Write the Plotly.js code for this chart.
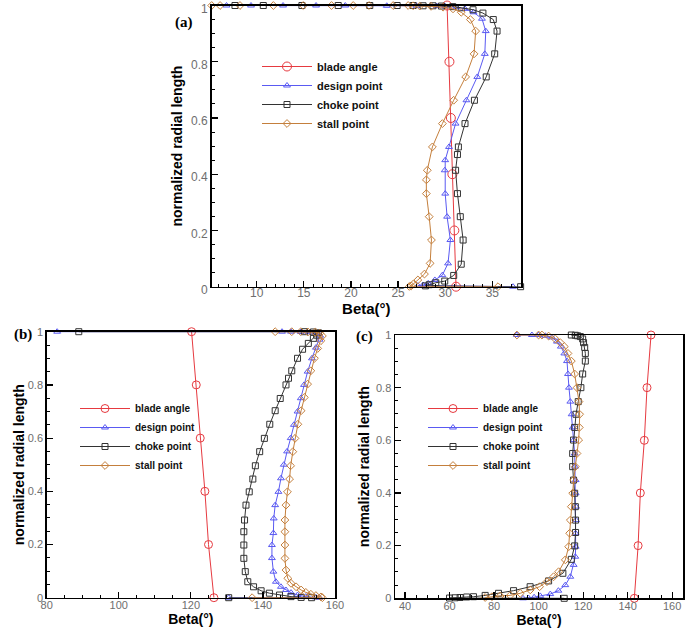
<!DOCTYPE html>
<html>
<head>
<meta charset="utf-8">
<script src="https://cdn.plot.ly/plotly-3.0.1.min.js"></script>
<style>html,body{margin:0;padding:0;background:#fff;}#chart{width:685px;height:629px;}</style>
</head>
<body>
<div id="chart"></div>
<script>
// ---------- data: panel (a) ----------
const seriesNames = ["blade angle", "design point", "choke point", "stall point"];
const a_blade_beta = [31.15, 30.97, 30.76, 30.6, 30.45, 30.2];
const a_blade_r = [0, 0.2, 0.4, 0.6, 0.8, 1];
const a_design_beta = [37.2, 27.1, 27.65, 28.2, 28.9, 29.7, 30.3, 30.55, 30.2, 30.0, 29.95, 30.0, 30.4, 31.1, 32.25, 33.4, 34.2, 34.3, 33.9, 33.0, 32.1, 31.2, 30.0, 29.1, 26.95, 23.8, 19.4, 16.3, 12.8, 9.4, 6.8];
const a_design_r = [0, 0.004, 0.006, 0.012, 0.024, 0.041, 0.083, 0.166, 0.249, 0.331, 0.414, 0.45, 0.497, 0.58, 0.663, 0.746, 0.828, 0.909, 0.953, 0.976, 0.988, 0.994, 0.997, 0.998, 0.999, 0.999, 1, 1, 1, 1, 1];
const a_choke_beta = [38.0, 27.9, 28.3, 29.0, 29.95, 30.9, 31.7, 31.9, 31.6, 31.3, 31.1, 31.3, 31.4, 32.1, 33.1, 34.35, 35.25, 35.5, 35.1, 34.0, 32.95, 31.7, 30.8, 29.6, 28.7, 27.65, 26.6, 24.9, 22.0, 18.65, 14.8, 10.7, 7.7];
const a_choke_r = [0, 0.003, 0.007, 0.014, 0.02, 0.04, 0.08, 0.166, 0.249, 0.331, 0.414, 0.47, 0.497, 0.58, 0.663, 0.746, 0.828, 0.909, 0.95, 0.973, 0.985, 0.992, 0.996, 0.998, 0.999, 0.999, 1, 1, 1, 1, 1, 1, 1];
const a_stall_beta = [35.6, 26.2, 26.4, 26.6, 27.1, 27.8, 28.4, 28.54, 28.3, 28.0, 28.0, 28.1, 28.64, 29.7, 30.9, 32.17, 33.06, 33.23, 32.67, 31.7, 30.83, 29.77, 28.5, 27.3, 26.6, 26.07, 24.48, 21.93, 20.24, 17.94, 14.94, 11.77, 8.23, 6.12, 5.23];
const a_stall_r = [0, 0.001, 0.003, 0.009, 0.024, 0.045, 0.083, 0.166, 0.249, 0.331, 0.38, 0.414, 0.497, 0.58, 0.663, 0.746, 0.828, 0.909, 0.95, 0.976, 0.988, 0.994, 0.997, 0.998, 0.999, 1, 1, 1, 1, 1, 1, 1, 1, 1, 1];

// ---------- data: panel (b) ----------
const b_blade_beta = [126.4, 124.9, 123.9, 122.6, 121.5, 120.2];
const b_blade_r = [0, 0.2, 0.4, 0.6, 0.8, 1];
const b_design_beta = [130.5, 155.7, 154.7, 151.9, 149.6, 147.8, 146.4, 145.0, 143.6, 142.9, 142.5, 142.5, 142.9, 143.0, 143.4, 144.3, 145.0, 145.8, 146.7, 147.7, 148.6, 149.6, 150.5, 151.4, 152.4, 153.6, 154.7, 155.7, 155.9, 155.0, 153.0, 150.5, 147.8, 145.3, 82.9];
const b_design_r = [0, 0, 0.001, 0.004, 0.01, 0.019, 0.029, 0.041, 0.06, 0.098, 0.149, 0.198, 0.243, 0.298, 0.348, 0.398, 0.449, 0.5, 0.55, 0.6, 0.65, 0.7, 0.75, 0.8, 0.85, 0.9, 0.94, 0.97, 0.985, 0.995, 0.998, 0.999, 1, 1, 1];
const b_choke_beta = [130.5, 153.5, 150.6, 147.8, 144.6, 141.8, 139.5, 137.4, 135.8, 135.1, 134.7, 134.7, 134.7, 134.9, 135.3, 136.2, 137.2, 137.9, 139.1, 140.4, 141.9, 143.4, 144.8, 146.4, 147.1, 148.0, 149.6, 151.0, 152.6, 154.0, 154.9, 155.4, 154.0, 151.5, 88.9];
const b_choke_r = [0, 0, 0.001, 0.004, 0.01, 0.017, 0.026, 0.041, 0.06, 0.098, 0.148, 0.198, 0.248, 0.292, 0.348, 0.398, 0.446, 0.496, 0.549, 0.599, 0.652, 0.703, 0.749, 0.8, 0.825, 0.853, 0.9, 0.934, 0.956, 0.975, 0.987, 0.996, 0.999, 1, 1];
const b_stall_beta = [137.0, 156.5, 156.1, 154.7, 153.3, 151.9, 150.6, 149.2, 147.8, 146.9, 146.4, 146.1, 146.1, 146.1, 146.1, 146.4, 146.8, 147.4, 147.7, 148.3, 148.9, 149.7, 150.6, 151.5, 152.4, 153.3, 154.3, 155.2, 156.1, 156.5, 155.8, 154.5, 152.5, 150.5, 148.0, 143.4];
const b_stall_r = [0, 0, 0.003, 0.008, 0.013, 0.02, 0.029, 0.041, 0.054, 0.073, 0.104, 0.148, 0.198, 0.248, 0.292, 0.348, 0.398, 0.446, 0.496, 0.549, 0.599, 0.652, 0.703, 0.753, 0.803, 0.853, 0.9, 0.937, 0.966, 0.984, 0.994, 0.998, 0.999, 1, 1, 1];

// ---------- data: panel (c) ----------
const c_blade_beta = [143.0, 144.7, 145.7, 147.5, 148.7, 150.5];
const c_blade_r = [0, 0.2, 0.4, 0.6, 0.8, 1];
const c_design_beta = [93.0, 95.5, 98.0, 100.75, 105.25, 108.9, 112, 114.25, 115.75, 116.5, 116.65, 116.6, 116.8, 116.8, 116.65, 116.65, 116.35, 116.2, 115.75, 115.3, 114.85, 114.25, 113.65, 113.2, 112.75, 111.55, 110, 108.25, 106, 103, 100, 97, 90.25];
const c_design_r = [0, 0.001, 0.004, 0.009, 0.016, 0.029, 0.05, 0.082, 0.127, 0.158, 0.196, 0.247, 0.297, 0.348, 0.399, 0.449, 0.5, 0.55, 0.601, 0.649, 0.699, 0.747, 0.8, 0.852, 0.901, 0.93, 0.956, 0.975, 0.991, 0.997, 1, 1, 1];
const c_choke_beta = [111.5, 60.0, 62.5, 64.75, 67.7, 70.75, 76, 82, 88.75, 96.2, 104.5, 110.9, 114.7, 116.2, 116.6, 116.6, 116.5, 116.2, 115.7, 115.3, 115.3, 115.7, 116.2, 116.8, 117.8, 119, 119.8, 121, 121, 120.7, 120.2, 119.8, 118.75, 117.5, 116.5, 114.7];
const c_choke_r = [0, 0.001, 0.002, 0.003, 0.005, 0.006, 0.011, 0.019, 0.029, 0.044, 0.066, 0.095, 0.148, 0.199, 0.25, 0.297, 0.348, 0.399, 0.449, 0.5, 0.55, 0.601, 0.649, 0.699, 0.747, 0.8, 0.852, 0.901, 0.93, 0.953, 0.971, 0.985, 0.994, 0.997, 0.999, 1];
const c_stall_beta = [76, 79, 82.75, 87.25, 91.75, 96.25, 100.45, 103.75, 106.75, 109, 112, 113.5, 113.95, 114.25, 114.7, 115.3, 115.75, 116.5, 117.25, 118, 118.3, 118.45, 118.15, 117.25, 116.2, 114.7, 113.2, 111.55, 109.75, 107.5, 104.5, 101.5, 100, 90.25];
const c_stall_r = [0.003, 0.006, 0.009, 0.011, 0.019, 0.032, 0.044, 0.063, 0.082, 0.101, 0.146, 0.196, 0.247, 0.297, 0.348, 0.399, 0.449, 0.5, 0.55, 0.601, 0.649, 0.699, 0.747, 0.8, 0.852, 0.901, 0.93, 0.956, 0.971, 0.985, 0.996, 1, 1, 1];

const xTickVals_a = [10, 15, 20, 25, 30, 35];
const xTickVals_b = [80, 100, 120, 140, 160];
const xTickVals_c = [40, 60, 80, 100, 120, 140, 160];
const yTickVals = [0, 0.2, 0.4, 0.6, 0.8, 1];
const yTickText = ["0", "0.2", "0.4", "0.6", "0.8", "1"];

// ---------- styles ----------
const colors = ["#e63a40", "#5a5af2", "#333333", "#c47f3c"];
const symbols = ["circle-open", "triangle-up-open", "square-open", "diamond-open"];
const sizes = [8, 6, 6, 6];

function mk(x, y, i, xa, ya, leg) {
  return {
    type: "scatter", mode: "lines+markers", x: x, y: y, name: seriesNames[i],
    xaxis: xa, yaxis: ya, legend: leg, cliponaxis: false,
    line: {color: colors[i], width: 1},
    marker: {symbol: symbols[i], size: i === 0 ? (xa === "x" ? 9 : 8) : sizes[i], color: colors[i], line: {width: 1, color: colors[i]}}
  };
}

const traces = [
  mk(a_blade_beta, a_blade_r, 0, "x", "y", "legend"),
  mk(a_design_beta, a_design_r, 1, "x", "y", "legend"),
  mk(a_choke_beta, a_choke_r, 2, "x", "y", "legend"),
  mk(a_stall_beta, a_stall_r, 3, "x", "y", "legend"),
  mk(b_blade_beta, b_blade_r, 0, "x2", "y2", "legend2"),
  mk(b_design_beta, b_design_r, 1, "x2", "y2", "legend2"),
  mk(b_choke_beta, b_choke_r, 2, "x2", "y2", "legend2"),
  mk(b_stall_beta, b_stall_r, 3, "x2", "y2", "legend2"),
  mk(c_blade_beta, c_blade_r, 0, "x3", "y3", "legend3"),
  mk(c_design_beta, c_design_r, 1, "x3", "y3", "legend3"),
  mk(c_choke_beta, c_choke_r, 2, "x3", "y3", "legend3"),
  mk(c_stall_beta, c_stall_r, 3, "x3", "y3", "legend3")
];

const W = 685, H = 629;
function px(x) { return x / W; }
function py(y) { return 1 - y / H; }

const SANS = "Liberation Sans, Arial, sans-serif";
function tickFont(s) { return {family: SANS, size: s, color: "#6e6e6e"}; }
function titleFont(s) { return {family: SANS, size: s, color: "#000", weight: "bold"}; }

function xAxis(dom, range, tv, mdt, anchor, stand, fs, tfs, tls) {
  return {
    domain: dom, range: range, anchor: anchor, tickvals: tv, ticktext: tv.map(String),
    showline: true, linecolor: "#000", linewidth: 1.5, mirror: true,
    ticks: "inside", ticklen: 6, tickwidth: 1.2, tickcolor: "#000",
    minor: {ticks: "inside", ticklen: 3, tickwidth: 1, tickcolor: "#000", dtick: mdt, tick0: 0, showgrid: false},
    showgrid: false, zeroline: false, tickfont: tickFont(fs), ticklabelstandoff: tls, ticklabeloverflow: "allow",
    title: {text: "Beta(°)", font: titleFont(tfs), standoff: stand}
  };
}
function yAxis(dom, anchor, stand, fs, tfs, shift) {
  return {
    domain: dom, range: [0, 1], anchor: anchor, tickvals: yTickVals, ticktext: yTickText,
    showline: true, linecolor: "#000", linewidth: 1.5, mirror: true,
    ticks: "inside", ticklen: 6, tickwidth: 1.2, tickcolor: "#000",
    minor: {ticks: "inside", ticklen: 3, tickwidth: 1, tickcolor: "#000", dtick: 0.05, tick0: 0, showgrid: false},
    showgrid: false, zeroline: false, tickfont: tickFont(fs), ticklabeloverflow: "allow", ticklabelshift: shift,
    title: {text: "normalized radial length", font: titleFont(tfs), standoff: stand}
  };
}
function legendAt(x, y, size) {
  return {
    x: x, y: y, xanchor: "left", yanchor: "top", bgcolor: "rgba(0,0,0,0)", borderwidth: 0,
    font: {family: SANS, size: size, color: "#111", weight: "bold"},
    itemwidth: 50, tracegroupgap: 0
  };
}

const layout = {
  width: W, height: H, margin: {l: 0, r: 0, t: 0, b: 0},
  paper_bgcolor: "#fff", plot_bgcolor: "#fff", showlegend: true,
  xaxis: xAxis([px(211.7), px(521)], [5.23, 38.04], xTickVals_a, 1, "y", 0, 12, 15, -6),
  yaxis: yAxis([py(286.7), py(5.5)], "x", 5, 12, 14, 3),
  xaxis2: xAxis([px(46.7), px(335)], [80, 160], xTickVals_b, 5, "y2", 1, 11, 14, -3),
  yaxis2: yAxis([py(597.7), py(331.7)], "x2", 0, 11, 14, 0),
  xaxis3: xAxis([px(395), px(683.3)], [35.5, 165], xTickVals_c, 5, "y3", 1, 11, 14, -3),
  yaxis3: yAxis([py(598.3), py(335)], "x3", 3, 11, 14, 0),
  legend: legendAt(px(257), py(52), 11),
  legend2: legendAt(px(75), py(394), 10),
  legend3: legendAt(px(423), py(394), 10),
  annotations: [
    {text: "(a)", x: px(173), y: py(12), xref: "paper", yref: "paper", showarrow: false, font: {family: "Liberation Serif, Times New Roman, serif", size: 15, color: "#000", weight: "bold"}},
    {text: "(b)", x: px(12), y: py(334), xref: "paper", yref: "paper", showarrow: false, font: {family: "Liberation Serif, Times New Roman, serif", size: 15, color: "#000", weight: "bold"}},
    {text: "(c)", x: px(364), y: py(336), xref: "paper", yref: "paper", showarrow: false, font: {family: "Liberation Serif, Times New Roman, serif", size: 15, color: "#000", weight: "bold"}}
  ]
};

Plotly.newPlot("chart", traces, layout, {displayModeBar: false, staticPlot: true});
</script>
</body>
</html>
